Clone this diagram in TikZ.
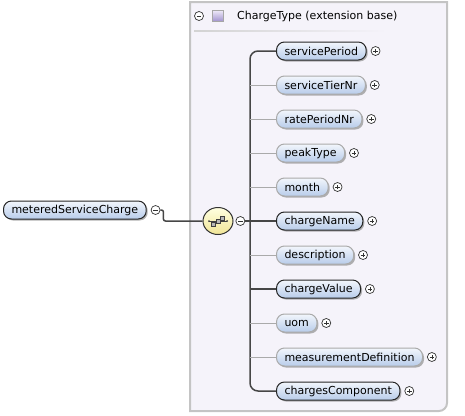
\documentclass[tikz,border=0pt]{standalone}
\usepackage{fontspec}
\setmainfont{DejaVu Sans}
\usetikzlibrary{positioning, shapes.geometric, shadows}

\definecolor{boxbg}{RGB}{245,243,250}
\definecolor{boxline}{RGB}{196,196,196}
\definecolor{eltop}{RGB}{242,246,252}
\definecolor{elbot}{RGB}{184,204,234}
\definecolor{optgray}{RGB}{170,170,170}
\definecolor{wire}{RGB}{70,70,70}
\definecolor{seqtop}{RGB}{255,255,225}
\definecolor{seqbot}{RGB}{240,228,150}
\definecolor{typetop}{RGB}{236,232,248}
\definecolor{typebot}{RGB}{160,145,205}

\begin{document}
\begin{tikzpicture}[x=1pt, y=-1pt,
  font=\fontsize{11}{12}\selectfont,
  element/.style={rectangle, rounded corners=8pt, minimum height=18pt,
    inner xsep=8pt, inner ysep=0pt, top color=eltop, bottom color=elbot,
    line width=1pt, anchor=west,
    drop shadow={shadow xshift=1.5pt, shadow yshift=-1.5pt, opacity=0.6}},
  mand/.style={draw=black!85},
  opt/.style={draw=optgray},
  btn/.style={circle, draw=black!80, fill=white, line width=0.7pt,
    minimum size=9pt, inner sep=0pt},
  minusbtn/.style={btn, path picture={
    \draw[line width=0.7pt] ([xshift=-2.3pt]path picture bounding box.center)
      -- ([xshift=2.3pt]path picture bounding box.center);}},
  plusbtn/.style={btn, path picture={
    \draw[line width=0.7pt] ([xshift=-2.3pt]path picture bounding box.center)
      -- ([xshift=2.3pt]path picture bounding box.center);
    \draw[line width=0.7pt] ([yshift=-2.3pt]path picture bounding box.center)
      -- ([yshift=2.3pt]path picture bounding box.center);}},
  mandline/.style={draw=wire, line width=1.5pt},
  optline/.style={draw=optgray, line width=0.8pt}
]
\useasboundingbox (0,0) rectangle (465,415);

% extension base box
\draw[draw=boxline, line width=2pt, fill=boxbg]
  (190,2) -- (447,2) [rounded corners=8pt] -- (447,411) [sharp corners]
  -- (190,411) -- cycle;
\shade[left color=gray!35, right color=boxbg] (194,30) rectangle (386,31.5);
\node[minusbtn] (typebtn) at (199,16) {};
\node[draw=gray!70, top color=typetop, bottom color=typebot,
  minimum size=11pt, inner sep=0pt] (typeicon) at (218,16) {};
\node[anchor=west, inner sep=0pt] (typename) at (237,16) {ChargeType (extension base)};

% root element and sequence
\node[element, mand] (root) at (3,210) {meteredServiceCharge};
\node[minusbtn, right=4pt of root] (rootbtn) {};
\node[ellipse, draw=black!80, line width=1pt, top color=seqtop, bottom color=seqbot,
  minimum width=30pt, minimum height=27pt] (seq) at (218,221) {};
\node[minusbtn, right=2pt of seq] (seqbtn) {};
\draw[black!75, line width=0.8pt] ([xshift=-9pt]seq.center) -- ([xshift=9pt]seq.center);
\foreach \dx/\dy in {-4.5/-3, 0/0, 4.5/3}
  \draw[black!75, fill=gray!55, line width=0.6pt]
    ([shift={(\dx pt-2.2pt,\dy pt-2.2pt)}]seq.center) rectangle ++(4.4pt,4.4pt);
\fill[black!75] ([xshift=-9pt]seq.center) circle (1pt);
\fill[black!75] ([xshift=9pt]seq.center) circle (1pt);

% child elements
\node[element, mand] (servicePeriod) at (276,51) {servicePeriod};
\node[element, opt] (serviceTierNr) at (276,85) {serviceTierNr};
\node[element, opt] (ratePeriodNr) at (276,119) {ratePeriodNr};
\node[element, opt] (peakType) at (276,153) {peakType};
\node[element, opt] (month) at (276,187) {month};
\node[element, mand] (chargeName) at (276,221) {chargeName};
\node[element, opt] (description) at (276,255) {description};
\node[element, mand] (chargeValue) at (276,289) {chargeValue};
\node[element, opt] (uom) at (276,323) {uom};
\node[element, opt] (measurementDefinition) at (276,357) {measurementDefinition};
\node[element, mand] (chargesComponent) at (276,391) {chargesComponent};

\node[plusbtn, right=4pt of servicePeriod] (servicePeriodbtn) {};
\node[plusbtn, right=4pt of serviceTierNr] (serviceTierNrbtn) {};
\node[plusbtn, right=4pt of ratePeriodNr] (ratePeriodNrbtn) {};
\node[plusbtn, right=4pt of peakType] (peakTypebtn) {};
\node[plusbtn, right=4pt of month] (monthbtn) {};
\node[plusbtn, right=4pt of chargeName] (chargeNamebtn) {};
\node[plusbtn, right=4pt of description] (descriptionbtn) {};
\node[plusbtn, right=4pt of chargeValue] (chargeValuebtn) {};
\node[plusbtn, right=4pt of uom] (uombtn) {};
\node[plusbtn, right=4pt of measurementDefinition] (measurementDefinitionbtn) {};
\node[plusbtn, right=4pt of chargesComponent] (chargesComponentbtn) {};

% connectors
\coordinate (spine) at (250,221);
\draw[mandline, rounded corners=2pt] (rootbtn.east) -- ++(3,0) |- (seq.west);
\draw[mandline] (seqbtn.east) -- (seqbtn.east -| spine);
\draw[mandline, rounded corners=8pt]
  (servicePeriod.west) -| (spine) |- (chargesComponent.west);
\draw[optline] (serviceTierNr.west) -- (serviceTierNr.west -| spine);
\draw[optline] (ratePeriodNr.west) -- (ratePeriodNr.west -| spine);
\draw[optline] (peakType.west) -- (peakType.west -| spine);
\draw[optline] (month.west) -- (month.west -| spine);
\draw[mandline] (chargeName.west) -- (chargeName.west -| spine);
\draw[optline] (description.west) -- (description.west -| spine);
\draw[mandline] (chargeValue.west) -- (chargeValue.west -| spine);
\draw[optline] (uom.west) -- (uom.west -| spine);
\draw[optline] (measurementDefinition.west) -- (measurementDefinition.west -| spine);
\end{tikzpicture}
\end{document}
